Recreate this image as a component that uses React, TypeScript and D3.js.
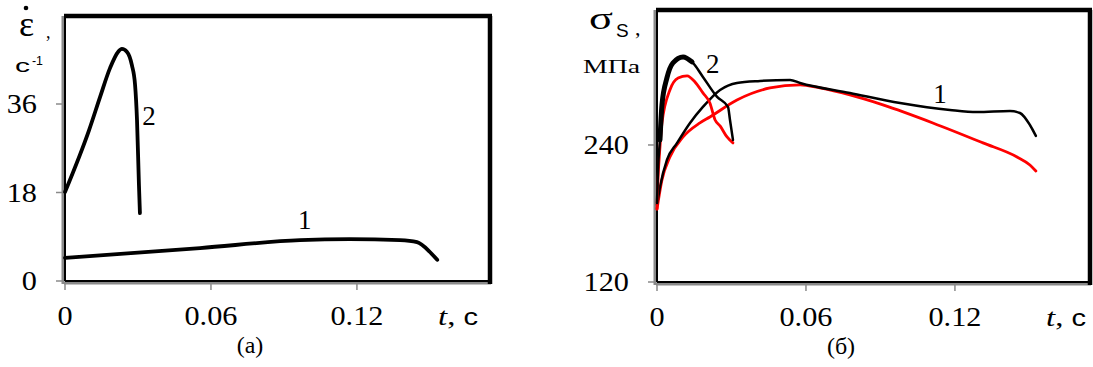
import React from "react";
import * as d3 from "d3";

// panel (a): strain rate, 1/s
const rateT1 = [0, 0.0555, 0.0966, 0.117, 0.1377, 0.1447, 0.15, 0.153];
const rateV1 = [4.7, 6.7, 8.3, 8.5, 8.3, 7.9, 5.9, 4.3];
const rateT2 = [0, 0.0099, 0.0144, 0.0185, 0.0218, 0.0234, 0.0255, 0.0275, 0.0288, 0.0296, 0.0304, 0.0308];
const rateV2 = [18.1, 30.7, 37.4, 43.3, 46.6, 47.2, 46.6, 43.9, 39.9, 32.7, 19.5, 13.8];

// panel (б): flow stress, MPa
const blackT1 = [0, 0.0012, 0.004, 0.0081, 0.0133, 0.0185, 0.0254, 0.0322, 0.0415, 0.0536, 0.0576, 0.0777, 0.0979, 0.118, 0.1289, 0.1422, 0.1462, 0.1502, 0.1526];
const blackV1 = [187.5, 203.2, 226.9, 241.8, 259.3, 273.3, 288.2, 294.3, 296.1, 297.0, 294.3, 285.6, 276.8, 270.7, 268.9, 269.8, 268.0, 257.5, 247.9];
const redT1 = [0, 0.002, 0.0052, 0.0105, 0.0173, 0.0213, 0.0322, 0.0455, 0.0576, 0.0656, 0.0777, 0.091, 0.1111, 0.1313, 0.145, 0.1502, 0.1526];
const redV1 = [183.9, 209.4, 229.5, 247.0, 259.3, 264.5, 279.4, 289.9, 292.6, 289.9, 283.8, 275.1, 259.3, 241.8, 229.5, 222.5, 217.2];
const blackT2 = [0, 0.0004, 0.0012, 0.002, 0.004, 0.0064, 0.0105, 0.0141, 0.0185, 0.0242, 0.0286, 0.0294, 0.0306];
const blackV2 = [189.2, 218.1, 244.4, 275.1, 298.7, 311.8, 317.1, 312.7, 299.6, 282.1, 273.3, 261.9, 244.4];
const redT2 = [0, 0.0004, 0.0012, 0.002, 0.0052, 0.0085, 0.0121, 0.0153, 0.0185, 0.0213, 0.0234, 0.0254, 0.0282, 0.0306];
const redV2 = [183.9, 209.4, 238.3, 259.3, 288.2, 298.7, 300.5, 295.2, 285.6, 276.8, 261.9, 256.7, 247.0, 241.8];

const xTicks = [0, 0.06, 0.12];
const xTickLabels = ["0", "0.06", "0.12"];
const rateTicks = [0, 18, 36];
const stressTicks = [120, 240];

const zip = (t: number[], v: number[]) => t.map((d, i) => [d, v[i]] as [number, number]);

const serif = "Liberation Serif, Times New Roman, serif";
const sans = "Liberation Sans, Arial, sans-serif";

// the original's text is a little wider than Times, so stretch it
const numWidth = (s: string, size: number) =>
  s.split("").reduce((w, c) => w + (c === "." ? 0.25 : 0.5), 0) * size * 1.12;

type PanelProps = {
  x: d3.ScaleLinear<number, number>;
  y: d3.ScaleLinear<number, number>;
  yTicks: number[];
  caption: string;
  captionX: number;
  unitX: number;
  children?: React.ReactNode;
};

const Panel = ({ x, y, yTicks, caption, captionX, unitX, children }: PanelProps) => {
  const [x0, x1] = x.range();
  const [y1, y0] = y.range();
  return (
    <g>
      {/* frame: gray/black axes on left and bottom, thick black top and right */}
      <line x1={x0 - 2} x2={x0 - 2} y1={y0} y2={y1 + 3} stroke="#8a8a8a" strokeWidth={3} />
      <line x1={x0 - 1} x2={x1 + 1} y1={y1 + 2} y2={y1 + 2} stroke="#8a8a8a" strokeWidth={3} />
      <line x1={x0} x2={x0} y1={y0} y2={y1} stroke="#000" strokeWidth={2} />
      <line x1={x0} x2={x1} y1={y1} y2={y1} stroke="#000" strokeWidth={2} />
      <line x1={x0 - 1} x2={x1 + 2} y1={y0} y2={y0} stroke="#000" strokeWidth={4.5} />
      <line x1={x1} x2={x1} y1={y0} y2={y1 + 3} stroke="#000" strokeWidth={4.5} />
      {yTicks.map((t) => (
        <g key={"y" + t}>
          <line x1={x0 - 9} x2={x0 - 2} y1={y(t)} y2={y(t)} stroke="#8a8a8a" strokeWidth={1.5} />
          <text
            x={x0 - 28}
            y={y(t)}
            dy="0.35em"
            textAnchor="end"
            fontFamily={serif}
            fontSize={27}
            textLength={numWidth(String(t), 27)}
            lengthAdjust="spacingAndGlyphs"
          >
            {t}
          </text>
        </g>
      ))}
      {xTicks.map((t, i) => (
        <g key={"x" + t}>
          <line x1={x(t)} x2={x(t)} y1={y1 + 2} y2={y1 + 9} stroke="#8a8a8a" strokeWidth={1.5} />
          <text
            x={x(t)}
            y={y1 + 35}
            dy="0.35em"
            textAnchor="middle"
            fontFamily={serif}
            fontSize={27}
            textLength={numWidth(xTickLabels[i], 27)}
            lengthAdjust="spacingAndGlyphs"
          >
            {xTickLabels[i]}
          </text>
        </g>
      ))}
      <text x={unitX} y={y1 + 35} dy="0.35em" fontSize={26} textLength={40} lengthAdjust="spacingAndGlyphs">
        <tspan fontFamily={serif} fontStyle="italic">t</tspan>
        <tspan fontFamily={serif}>,</tspan>
        <tspan fontFamily={sans} fontSize={23}> с</tspan>
      </text>
      <text x={captionX} y={y1 + 72} textAnchor="middle" fontFamily={serif} fontSize={24}>
        {caption}
      </text>
      {children}
    </g>
  );
};

export default function App() {
  const xa = d3.scaleLinear().domain([0, 0.1747]).range([65, 490]);
  const ya = d3.scaleLinear().domain([0, 53.9]).range([281, 16]);
  const xb = d3.scaleLinear().domain([0, 0.1744]).range([657, 1090]);
  const yb = d3.scaleLinear().domain([120, 358.2]).range([282, 10]);

  const lineA = d3
    .line<[number, number]>()
    .x((d) => xa(d[0]))
    .y((d) => ya(d[1]))
    .curve(d3.curveMonotoneX);
  const lineB = d3
    .line<[number, number]>()
    .x((d) => xb(d[0]))
    .y((d) => yb(d[1]))
    .curve(d3.curveMonotoneX);

  const black2 = zip(blackT2, blackV2);

  return (
    <svg width={1093} height={367} style={{ position: "absolute", left: 0, top: 0, background: "#fff" }}>
      <Panel x={xa} y={ya} yTicks={rateTicks} caption="(a)" captionX={250} unitX={438}>
        <path d={lineA(zip(rateT1, rateV1)) || ""} fill="none" stroke="#000" strokeWidth={3.8} strokeLinecap="round" />
        <path d={lineA(zip(rateT2, rateV2)) || ""} fill="none" stroke="#000" strokeWidth={3.8} strokeLinecap="round" />
        <text x={xa(0.0985)} y={ya(10.6)} textAnchor="middle" fontFamily={serif} fontSize={27}>1</text>
        <text x={xa(0.0345)} y={ya(31.8)} textAnchor="middle" fontFamily={serif} fontSize={27}>2</text>
      </Panel>
      <Panel x={xb} y={yb} yTicks={stressTicks} caption="(б)" captionX={841} unitX={1046}>
        <path d={lineB(zip(redT1, redV1)) || ""} fill="none" stroke="#f00" strokeWidth={2.8} strokeLinecap="round" />
        <path d={lineB(zip(blackT1, blackV1)) || ""} fill="none" stroke="#000" strokeWidth={2.5} strokeLinecap="round" />
        <path d={lineB(zip(redT2, redV2)) || ""} fill="none" stroke="#f00" strokeWidth={2.8} strokeLinecap="round" />
        <path d={lineB(black2) || ""} fill="none" stroke="#000" strokeWidth={2.5} strokeLinecap="round" />
        <path d={lineB(black2.slice(2, 8)) || ""} fill="none" stroke="#000" strokeWidth={5} strokeLinecap="round" />
        <text x={xb(0.114)} y={yb(277)} textAnchor="middle" fontFamily={serif} fontSize={27}>1</text>
        <text x={xb(0.0225)} y={yb(303)} textAnchor="middle" fontFamily={serif} fontSize={27}>2</text>
      </Panel>
      {/* axis titles */}
      <text x={19} y={36} fontFamily={serif} fontSize={36}>ε</text>
      <circle cx={26} cy={8} r={2.3} fill="#000" />
      <text x={46} y={38} fontFamily={serif} fontSize={18}>,</text>
      <text x={15} y={72} fontFamily={sans} fontSize={19} textLength={15} lengthAdjust="spacingAndGlyphs">с</text>
      <text x={32} y={65} fontFamily={sans} fontSize={13} textLength={11} lengthAdjust="spacingAndGlyphs">-1</text>
      <text x={589} y={29} fontFamily={serif} fontSize={31} textLength={24} lengthAdjust="spacingAndGlyphs">σ</text>
      <text x={616} y={37} fontFamily={sans} fontSize={19}>S</text>
      <text x={635} y={35} fontFamily={serif} fontSize={22}>,</text>
      <text x={583} y={73} fontFamily={serif} fontSize={19} textLength={57} lengthAdjust="spacingAndGlyphs">МПа</text>
    </svg>
  );
}
